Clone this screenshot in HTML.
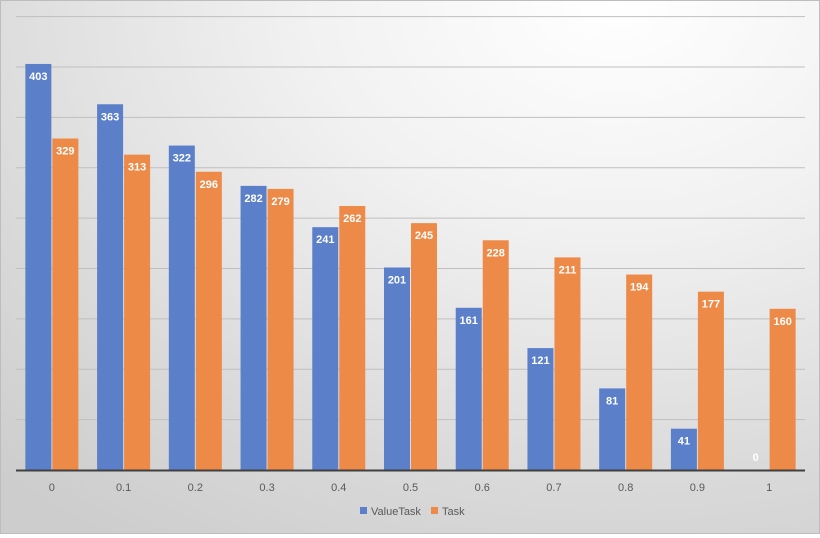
<!DOCTYPE html>
<html><head><meta charset="utf-8"><style>
html,body{margin:0;padding:0;}
body{width:820px;height:534px;overflow:hidden;font-family:"Liberation Sans",sans-serif;}
#chart{position:absolute;left:0;top:0;width:818px;height:532px;border:1px solid #bdbdbd;background:radial-gradient(ellipse 900px 650px at 75% 0%,#ffffff 0%,#f1f1f1 35%,#d9d9d9 75%,#cdcdcd 100%);}
</style></head><body>
<div id="chart">
<svg id="svg" width="818" height="532" xmlns="http://www.w3.org/2000/svg"></svg>
</div>
<script>
const categories=["0","0.1","0.2","0.3","0.4","0.5","0.6","0.7","0.8","0.9","1"];
const valueTask=[403,363,322,282,241,201,161,121,81,41,0];
const task=[329,313,296,279,262,245,228,211,194,177,160];
const gridTicks=[50,100,150,200,250,300,350,400,450];
const svg=document.getElementById('svg');
const NS="http://www.w3.org/2000/svg";
const L=15,R=804,B=469,T=15.6,MAX=450;
const y=v=>B-(v/MAX)*(B-T);
const pitch=(R-L)/categories.length;
const cx=i=>L+pitch*(i+0.5);
function mk(tag,attrs){const e=document.createElementNS(NS,tag);for(const k in attrs)e.setAttribute(k,attrs[k]);svg.appendChild(e);return e;}
gridTicks.forEach(t=>{
const g=mk('line',{x1:L,x2:R,y1:y(t),y2:y(t),stroke:'#bfbfbf','stroke-width':1});


});
const bw=26;
categories.forEach((c,i)=>{
const vb=valueTask[i],vo=task[i];
const b=mk('rect',{x:cx(i)-bw-0.5,y:y(vb),width:bw,height:B-y(vb),fill:'#5b7fc9'});


const o=mk('rect',{x:cx(i)+0.5,y:y(vo),width:bw,height:B-y(vo),fill:'#ee8a48'});


const lb=mk('text',{x:cx(i)-bw/2-0.5,y:Math.min(y(vb)+16,B-9),'text-anchor':'middle','font-size':11,'font-weight':'bold',fill:'#fff'});
lb.textContent=vb;


const lo=mk('text',{x:cx(i)+bw/2+0.5,y:Math.min(y(vo)+16,B-9),'text-anchor':'middle','font-size':11,'font-weight':'bold',fill:'#fff'});
lo.textContent=vo;


const xl=mk('text',{x:cx(i),y:490,'text-anchor':'middle','font-size':11,fill:'#595959'});
xl.textContent=c;


});
const ax=mk('line',{x1:L,x2:R,y1:B+0.5,y2:B+0.5,stroke:'#404040','stroke-width':2});


const s1=mk('rect',{x:359,y:506,width:7,height:7,fill:'#5b7fc9'});


const t1=mk('text',{x:370,y:514,'font-size':11,fill:'#595959'});t1.textContent='ValueTask';


const s2=mk('rect',{x:430,y:506,width:7,height:7,fill:'#ee8a48'});


const t2=mk('text',{x:441,y:514,'font-size':11,fill:'#595959'});t2.textContent='Task';


</script>
</body></html>
